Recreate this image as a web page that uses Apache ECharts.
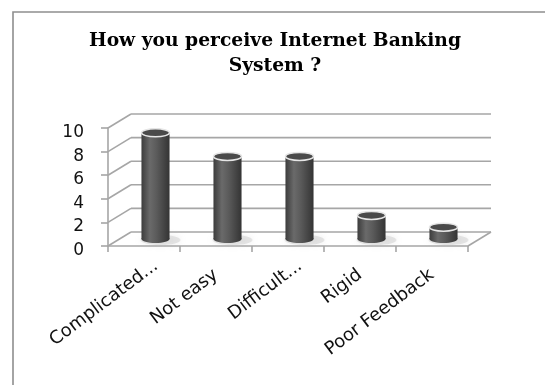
<!DOCTYPE html>
<html>
<head>
<meta charset="utf-8">
<script src="https://cdn.jsdelivr.net/npm/echarts@6/dist/echarts.min.js"></script>
<style>
  html, body { margin: 0; padding: 0; background: #fff; }
  #chart { width: 545px; height: 385px; }
</style>
</head>
<body>
<div id="chart"></div>
<script>
// Survey answers: how respondents perceive the Internet banking system
const categories = ['Complicated...', 'Not easy', 'Difficult...', 'Rigid', 'Poor Feedback'];
const responses = [9, 7, 7, 2, 1];
const yTicks = [0, 2, 4, 6, 8, 10];

// oblique depth of the pseudo-3D box (pixels)
const DX = 23, DY = -14;
const GRID_COLOR = '#a6a6a6';

const chart = echarts.init(document.getElementById('chart'), null, { renderer: 'canvas' });

// Back wall, side wall and floor outline, positioned through the axes
function renderFrame(params, api) {
  const cs = params.coordSys;
  const x0 = cs.x, x1 = cs.x + cs.width;
  const children = [];
  const line = (a, b, c, d) => ({
    type: 'line',
    shape: { x1: a, y1: b, x2: c, y2: d },
    style: { stroke: GRID_COLOR, lineWidth: 1.6 }
  });
  yTicks.forEach(v => {
    const y = api.coord([0, v])[1];
    children.push(line(x0, y, x0 + DX, y + DY));
    children.push(line(x0 + DX, y + DY, x1 + DX, y + DY));
  });
  const y0 = api.coord([0, 0])[1];
  children.push(line(x1, y0, x1 + DX, y0 + DY));
  return { type: 'group', children };
}

// Cylinder columns standing mid-depth in the box
function renderCylinder(params, api) {
  const i = api.value(0);
  const v = api.value(1);
  const base = api.coord([i, 0]);
  const top = api.coord([i, v]);
  const w = api.size([1, 0])[0] * 0.39;
  const rx = w / 2, ry = 4;
  const cx = base[0] + DX / 2;
  const by = base[1] + DY / 2;
  const ty = top[1] + DY / 2;
  const body = new echarts.graphic.LinearGradient(0, 0, 1, 0, [
    { offset: 0, color: '#3c3c3c' },
    { offset: 0.3, color: '#6a6a6a' },
    { offset: 0.55, color: '#5a5a5a' },
    { offset: 1, color: '#343434' }
  ]);
  return {
    type: 'group',
    children: [
      {
        type: 'ellipse',
        shape: { cx: cx + 5, cy: by + 1, rx: rx + 6, ry: ry + 1 },
        style: { fill: 'rgba(190,190,190,0.35)', shadowBlur: 6, shadowColor: 'rgba(170,170,170,0.6)' },
        z2: 1
      },
      {
        type: 'ellipse',
        shape: { cx: cx, cy: by, rx: rx, ry: ry },
        style: { fill: body },
        z2: 2
      },
      {
        type: 'rect',
        shape: { x: cx - rx, y: ty, width: w, height: by - ty },
        style: { fill: body },
        z2: 3
      },
      {
        type: 'ellipse',
        shape: { cx: cx, cy: ty, rx: rx, ry: ry },
        style: { fill: '#4a4a4a', stroke: '#e6e6e6', lineWidth: 1.5 },
        z2: 4
      }
    ]
  };
}

chart.setOption({
  animation: false,
  title: {
    text: 'How you perceive Internet Banking\nSystem ?',
    left: 270,
    top: 24,
    textAlign: 'center',
    textStyle: {
      fontFamily: 'DejaVu Serif',
      fontWeight: 'bold',
      fontSize: 18.7,
      lineHeight: 25,
      color: '#000'
    }
  },
  graphic: [{
    type: 'rect',
    shape: { x: 13, y: 12, width: 600, height: 420 },
    style: { fill: 'none', stroke: '#8e8e8e', lineWidth: 1.6 },
    silent: true
  }],
  grid: { left: 108, top: 128, width: 360, height: 118 },
  xAxis: {
    type: 'category',
    data: categories,
    boundaryGap: true,
    axisLine: { lineStyle: { color: GRID_COLOR, width: 1.6 } },
    axisTick: { show: true, length: 6, lineStyle: { color: GRID_COLOR, width: 1.6 } },
    axisLabel: {
      rotate: 37,
      margin: 27,
      interval: 0,
      fontFamily: 'DejaVu Sans',
      fontSize: 18,
      color: '#111',
      // truncated names sit a little further along their baseline
      formatter: v => (v.endsWith('...') ? '{cut|' + v + '}' : v),
      rich: {
        cut: {
          fontFamily: 'DejaVu Sans',
          fontSize: 18,
          color: '#111',
          padding: [0, -15, 0, 0]
        }
      }
    },
    splitLine: { show: false }
  },
  yAxis: {
    type: 'value',
    min: 0,
    max: 10,
    interval: 2,
    axisLine: { show: true, lineStyle: { color: GRID_COLOR, width: 1.6 } },
    axisTick: { show: true, length: 7, lineStyle: { color: GRID_COLOR, width: 1.6 } },
    axisLabel: {
      margin: 24,
      verticalAlign: 'top',
      lineHeight: 9,
      fontFamily: 'DejaVu Sans',
      fontSize: 17,
      color: '#111'
    },
    splitLine: { show: false }
  },
  series: [
    {
      type: 'custom',
      renderItem: renderFrame,
      data: [[0, 0]],
      silent: true,
      z: 1
    },
    {
      type: 'custom',
      renderItem: renderCylinder,
      data: responses.map((v, i) => [i, v]),
      encode: { x: 0, y: 1 },
      z: 3
    }
  ]
});
</script>
</body>
</html>
